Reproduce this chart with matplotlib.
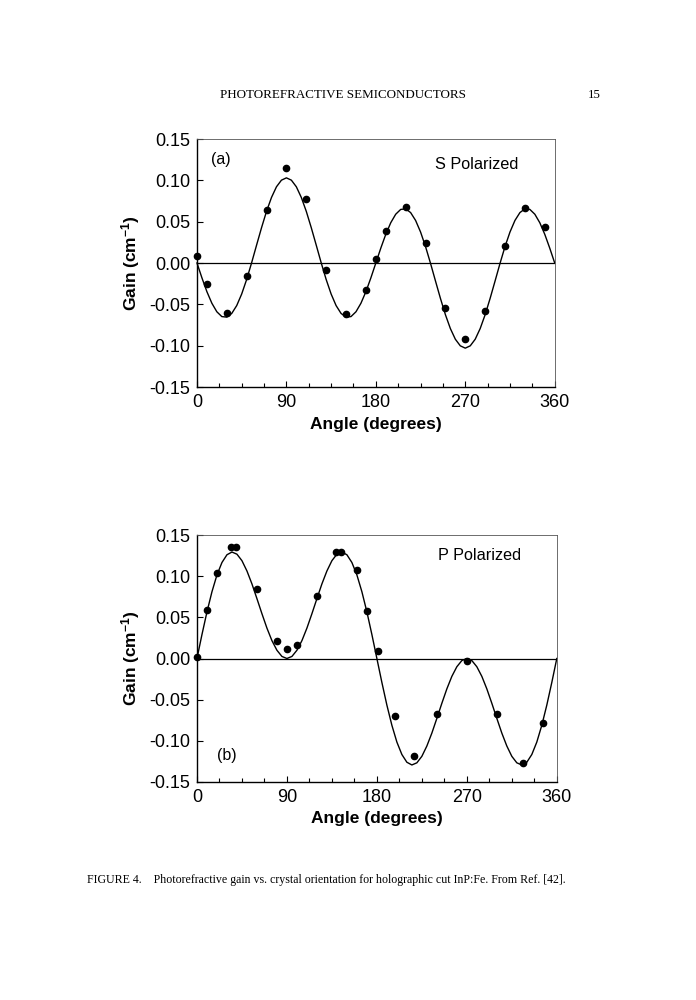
import numpy as np
import matplotlib
matplotlib.use("Agg")
import matplotlib.pyplot as plt
from matplotlib.ticker import MultipleLocator, FormatStrFormatter

plt.rcParams['font.family'] = ['Liberation Sans', 'DejaVu Sans']
plt.rcParams['axes.unicode_minus'] = False
plt.rcParams['mathtext.fontset'] = 'custom'
plt.rcParams['mathtext.rm'] = 'Liberation Sans:bold'
plt.rcParams['mathtext.default'] = 'rm'

# measured points, S polarized (a)
s_angle = [0, 10, 30, 50, 70, 90, 110, 130, 150, 170, 180, 190, 210, 230, 250,
           270, 290, 310, 330, 350]
s_gain = [0.009, -0.026, -0.060, -0.016, 0.064, 0.115, 0.077, -0.008, -0.062,
          -0.033, 0.005, 0.039, 0.068, 0.024, -0.054, -0.092, -0.058, 0.020,
          0.066, 0.043]

# measured points, P polarized (b)
p_angle = [0, 10, 20, 34, 39, 60, 80, 90, 100, 120, 139, 144, 160, 170, 181,
           198, 217, 240, 270, 300, 326, 346]
p_gain = [0.002, 0.059, 0.104, 0.136, 0.136, 0.084, 0.021, 0.011, 0.017,
          0.076, 0.129, 0.129, 0.108, 0.058, 0.009, -0.070, -0.118, -0.068,
          -0.003, -0.068, -0.127, -0.078]

curve_angle = list(range(0, 361, 5))
s_fit = [0, -0.018, -0.0347, -0.0487, -0.059, -0.0648, -0.0655, -0.061,
         -0.0515, -0.0375, -0.0199, 0.0003, 0.0217, 0.0428, 0.0625, 0.0793,
         0.0922, 0.1002, 0.103, 0.1002, 0.0922, 0.0793, 0.0625, 0.0428,
         0.0217, 0.0003, -0.0199, -0.0375, -0.0515, -0.061, -0.0655, -0.0648,
         -0.059, -0.0487, -0.0347, -0.018, 0,
         0.018, 0.0347, 0.0487, 0.059, 0.0648, 0.0655, 0.061, 0.0515, 0.0375,
         0.0199, -0.0003, -0.0217, -0.0428, -0.0625, -0.0793, -0.0922,
         -0.1002, -0.103, -0.1002, -0.0922, -0.0793, -0.0625, -0.0428,
         -0.0217, -0.0003, 0.0199, 0.0375, 0.0515, 0.061, 0.0655, 0.0648,
         0.059, 0.0487, 0.0347, 0.018, 0]
p_fit = [0, 0.0291, 0.0566, 0.0811, 0.1015, 0.1166, 0.126, 0.1293, 0.1267,
         0.1188, 0.1063, 0.0906, 0.0727, 0.0544, 0.0369, 0.0217, 0.01, 0.0025,
         0, 0.0025, 0.01, 0.0217, 0.0369, 0.0544, 0.0727, 0.0906, 0.1063,
         0.1188, 0.1267, 0.1293, 0.126, 0.1166, 0.1015, 0.0811, 0.0566,
         0.0291, 0,
         -0.0291, -0.0566, -0.0811, -0.1015, -0.1166, -0.126, -0.1293,
         -0.1267, -0.1188, -0.1063, -0.0906, -0.0727, -0.0544, -0.0369,
         -0.0217, -0.01, -0.0025, 0, -0.0025, -0.01, -0.0217, -0.0369,
         -0.0544, -0.0727, -0.0906, -0.1063, -0.1188, -0.1267, -0.1293,
         -0.126, -0.1166, -0.1015, -0.0811, -0.0566, -0.0291, 0]

fig = plt.figure(figsize=(6.96, 10), dpi=100)
ax_a = fig.add_axes([0.283, 0.613, 0.514, 0.248])
ax_b = fig.add_axes([0.283, 0.218, 0.517, 0.247])


def style_axes(ax):
    ax.set_xlim(0, 360)
    ax.set_ylim(-0.15, 0.15)
    ax.axhline(0, color="black", lw=0.9, zorder=1)
    ax.xaxis.set_major_locator(MultipleLocator(90))
    ax.xaxis.set_minor_locator(MultipleLocator(22.5))
    ax.yaxis.set_major_locator(MultipleLocator(0.05))
    ax.yaxis.set_major_formatter(FormatStrFormatter('%.2f'))
    ax.tick_params(which="both", direction="in", top=False, right=False,
                   labelsize=13, pad=5, width=0.8)
    ax.tick_params(which="major", length=4)
    ax.tick_params(which="minor", length=3)
    for side in ["left", "bottom"]:
        ax.spines[side].set_linewidth(1.0)
    for side in ["top", "right"]:
        ax.spines[side].set_linewidth(0.6)
        ax.spines[side].set_color("#555555")
    ax.set_xlabel("Angle (degrees)", fontsize=12.5, fontweight="bold", labelpad=4)
    ax.set_ylabel(r"Gain (cm$^{-1}$)", fontsize=12.5, fontweight="bold", labelpad=5)


ax_a.plot(curve_angle, s_fit, color="black", lw=1.0, clip_on=False)
ax_a.plot(s_angle, s_gain, "o", color="black", ms=4.5, clip_on=False)
style_axes(ax_a)
ax_a.text(0.04, 0.90, "(a)", transform=ax_a.transAxes, fontsize=11.5)
ax_a.text(0.665, 0.88, "S Polarized", transform=ax_a.transAxes, fontsize=11.7)

ax_b.plot(curve_angle, p_fit, color="black", lw=1.0, clip_on=False)
ax_b.plot(p_angle, p_gain, "o", color="black", ms=4.5, clip_on=False)
style_axes(ax_b)
ax_b.text(0.055, 0.09, "(b)", transform=ax_b.transAxes, fontsize=11.5)
ax_b.text(0.67, 0.90, "P Polarized", transform=ax_b.transAxes, fontsize=11.7)

fig.text(0.493, 0.905, "PHOTOREFRACTIVE SEMICONDUCTORS", ha="center", va="center",
         family="Liberation Serif", fontsize=9.4)
fig.text(0.854, 0.905, "15", ha="center", va="center",
         family="Liberation Serif", fontsize=9.4)
fig.text(0.125, 0.120,
         "FIGURE 4.    Photorefractive gain vs. crystal orientation for holographic cut InP:Fe. From Ref. [42].",
         ha="left", va="center", family="Liberation Serif", fontsize=8.6)

fig.savefig("out.png", dpi=100)
